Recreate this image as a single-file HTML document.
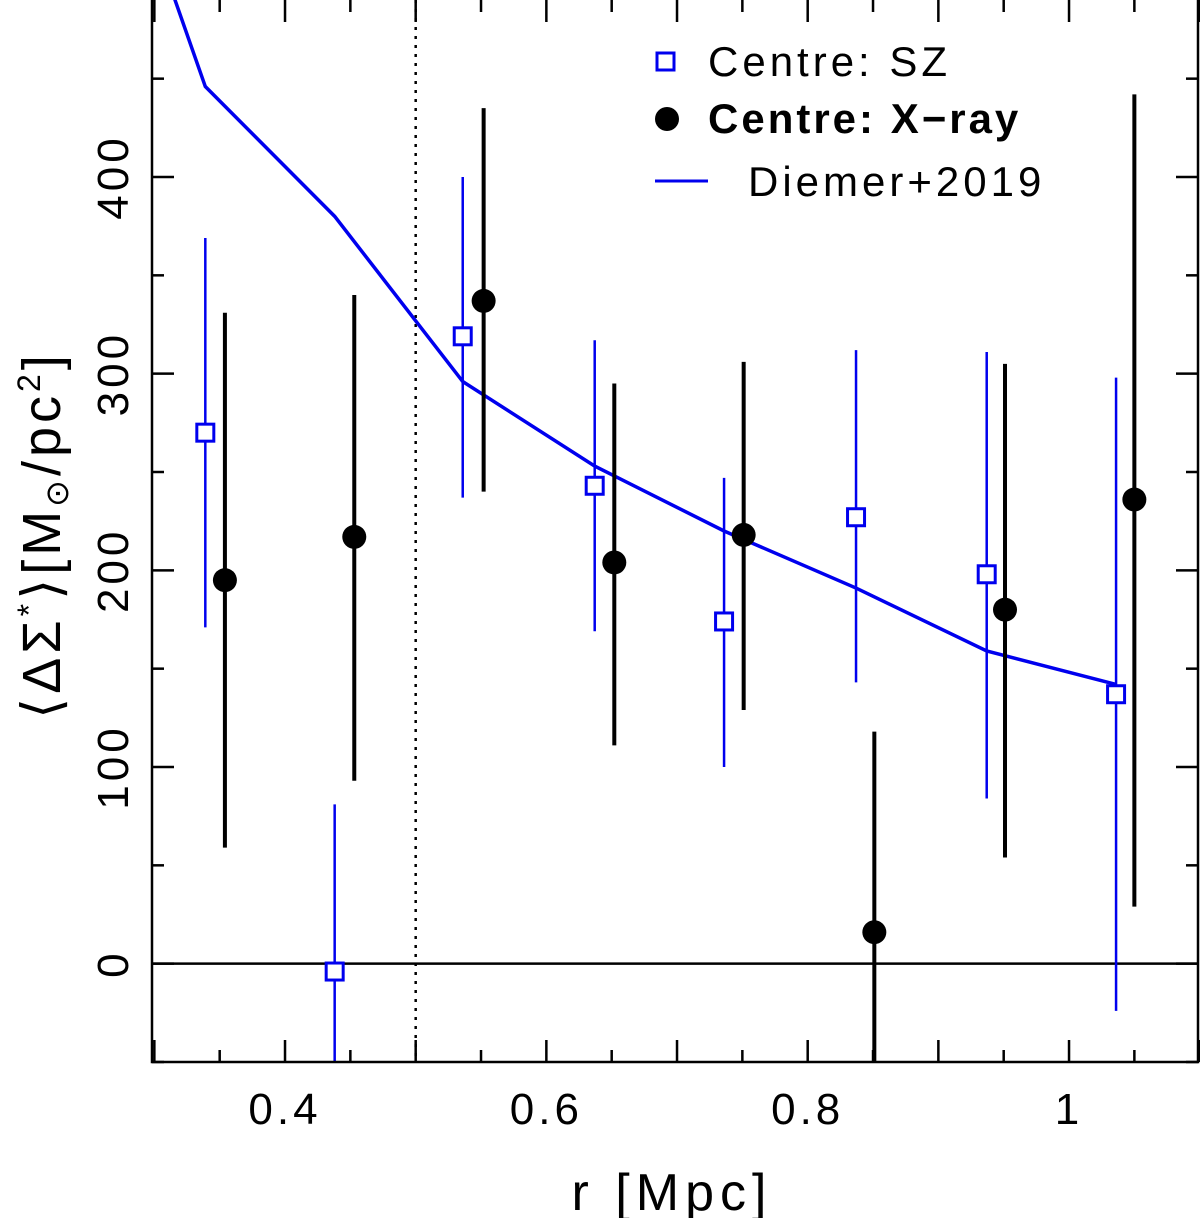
<!DOCTYPE html>
<html><head><meta charset="utf-8"><style>
html,body{margin:0;padding:0;background:#fff;}
svg{display:block;font-family:"Liberation Sans","DejaVu Sans",sans-serif;}
</style></head><body>
<svg id="chart" width="1200" height="1218" viewBox="0 0 1200 1218" xmlns="http://www.w3.org/2000/svg">
<defs><clipPath id="plotclip"><rect x="152" y="0" width="1046" height="1062"/></clipPath></defs>
<g id="marks" clip-path="url(#plotclip)"></g>
<rect x="152" y="-2" width="1046" height="1064" fill="none" stroke="#000" stroke-width="2.5"/>
<g id="axes"></g>
<text x="672" y="1210" font-size="52" letter-spacing="6" text-anchor="middle">r [Mpc]</text>
<text transform="translate(60,535) rotate(-90)" font-size="54" letter-spacing="4" text-anchor="middle">⟨ΔΣ<tspan font-size="32" dy="-20">*</tspan><tspan dy="20">⟩[M</tspan><tspan font-size="32" dy="8">⊙</tspan><tspan dy="-8">/pc</tspan><tspan font-size="32" dy="-20">2</tspan><tspan dy="20">]</tspan></text>
<g>
<rect x="657" y="53" width="17" height="17" fill="none" stroke="#0000ee" stroke-width="3"/>
<text x="708" y="76" font-size="42" letter-spacing="4">Centre: SZ</text>
<circle cx="667" cy="119" r="12" fill="#000"/>
<text x="708" y="133" font-size="42" letter-spacing="3" font-weight="bold">Centre: X−ray</text>
<line x1="655" y1="181" x2="708" y2="181" stroke="#0000ee" stroke-width="3"/>
<text x="748" y="196" font-size="42" letter-spacing="4">Diemer+2019</text>
</g>
</svg>
<script>
const szR=[0.339,0.438,0.536,0.637,0.736,0.837,0.937,1.036];
const szVal=[270,-4,319,243,174,227,198,137];
const szHi=[369,81,400,317,247,312,311,298];
const szLo=[171,-80,237,169,100,143,84,-24];
const xrR=[0.354,0.453,0.552,0.652,0.751,0.851,0.951,1.050];
const xrVal=[195,217,337,204,218,16,180,236];
const xrHi=[331,340,435,295,306,118,305,442];
const xrLo=[59,93,240,111,129,-80,54,29];
const modR=[0.3,0.339,0.438,0.536,0.637,0.736,0.837,0.937,1.036];
const modVal=[520,446,380,296,253,220,191,159,142];
const xTicks=[0.4,0.6,0.8,1];
const xTickLabels=["0.4","0.6","0.8","1"];
const yTicks=[0,100,200,300,400];
const yTickLabels=["0","100","200","300","400"];
const X0=0.2982,X1=1.0987,Y0=-50,Y1=490,L=152,R=1198,T=0,B=1062;
const xs=v=>L+(v-X0)/(X1-X0)*(R-L);
const ys=v=>B-(v-Y0)/(Y1-Y0)*(B-T);
const NS="http://www.w3.org/2000/svg";
function mk(parent,tag,attrs){const e=document.createElementNS(NS,tag);for(const k in attrs)e.setAttribute(k,attrs[k]);parent.appendChild(e);return e;}
const marks=document.getElementById('marks'),axes=document.getElementById('axes');
let e=mk(marks,'line',{x1:L,x2:R,y1:ys(0),y2:ys(0),stroke:'#000','stroke-width':2.5});


e=mk(marks,'line',{x1:xs(0.5),x2:xs(0.5),y1:T,y2:B,stroke:'#000','stroke-width':2.5,'stroke-dasharray':'3,6'});


e=mk(marks,'polyline',{points:modR.map((r,i)=>xs(r)+','+ys(modVal[i])).join(' '),fill:'none',stroke:'#0000ee','stroke-width':3.5});


szR.forEach((r,i)=>{
 e=mk(marks,'line',{x1:xs(r),x2:xs(r),y1:ys(szHi[i]),y2:ys(szLo[i]),stroke:'#0000ee','stroke-width':2.5});
 
 
 e=mk(marks,'rect',{x:xs(r)-8.5,y:ys(szVal[i])-8.5,width:17,height:17,fill:'#fff',stroke:'#0000ee','stroke-width':3});
 
 
});
xrR.forEach((r,i)=>{
 e=mk(marks,'line',{x1:xs(r),x2:xs(r),y1:ys(xrHi[i]),y2:ys(xrLo[i]),stroke:'#000','stroke-width':4});
 
 
 e=mk(marks,'circle',{cx:xs(r),cy:ys(xrVal[i]),r:12,fill:'#000'});
 
 
});
for(let k=6;k<=22;k++){const v=k*0.05;const major=(k%2===0);const len=major?22:12;const x=xs(v);
 e=mk(axes,'line',{x1:x,x2:x,y1:B,y2:B-len,stroke:'#000','stroke-width':2.5});
 
 
 e=mk(axes,'line',{x1:x,x2:x,y1:T,y2:T+len,stroke:'#000','stroke-width':2.5});
 
 }
for(let v=-50;v<=490;v+=50){const major=v%100===0;const len=major?22:12;const y=ys(v);
 e=mk(axes,'line',{x1:L,x2:L+len,y1:y,y2:y,stroke:'#000','stroke-width':2.5});
 
 
 e=mk(axes,'line',{x1:R,x2:R-len,y1:y,y2:y,stroke:'#000','stroke-width':2.5});
 
 }
xTicks.forEach((t,i)=>{e=mk(axes,'text',{x:xs(t),y:1124,'font-size':44,'letter-spacing':4,'text-anchor':'middle'});e.textContent=xTickLabels[i];
 
 });
yTicks.forEach((t,i)=>{e=mk(axes,'text',{transform:`translate(128,${ys(t)}) rotate(-90)`,'font-size':44,'letter-spacing':4,'text-anchor':'middle'});e.textContent=yTickLabels[i];
 
 });
</script>
</body></html>
